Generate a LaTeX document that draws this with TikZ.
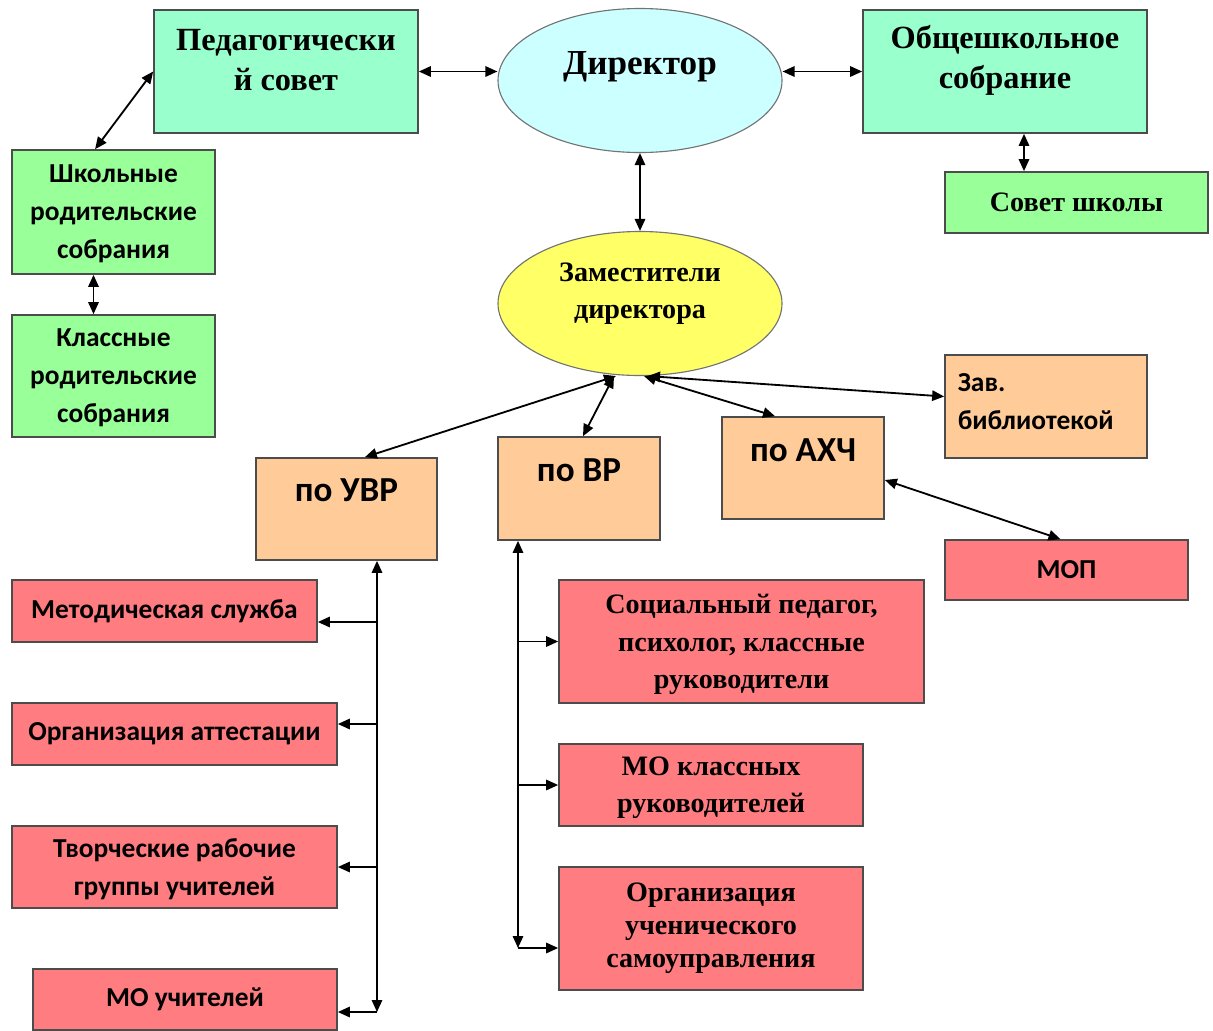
\documentclass[tikz,border=0pt]{standalone}
\usepackage{fontspec}
\setmainfont{Liberation Serif}
\newfontfamily\calibri{Carlito}
\usepackage{tikz}
\usetikzlibrary{positioning, calc, shapes.geometric, arrows.meta}

\definecolor{aquabox}{HTML}{99FFCC}
\definecolor{greenbox}{HTML}{99FF99}
\definecolor{cyanbox}{HTML}{CCFFFF}
\definecolor{yellowbox}{HTML}{FFFF66}
\definecolor{orangebox}{HTML}{FFCC99}
\definecolor{redbox}{HTML}{FF7C80}

\begin{document}
\begin{tikzpicture}[x=0.25mm, y=-0.25mm, line width=1.3pt, >={Triangle[length=3mm,width=2.6mm]}]
        % Define block styles
        \tikzstyle{block} = [rectangle, draw=black!70, line width=1.2pt, inner sep=2pt, align=center]
        \tikzstyle{oval} = [ellipse, draw=black!55, line width=0.8pt, inner sep=0pt, minimum width=71mm, minimum height=36mm]
        \tikzstyle{headtext} = [font=\bfseries\fontsize{23}{28.5}\selectfont, align=center]
        \tikzstyle{serif} = [font=\bfseries\fontsize{20}{26.5}\selectfont, align=center]
        \tikzstyle{sans} = [font=\calibri\bfseries\fontsize{19.5}{27}\selectfont, align=center]
        \tikzstyle{big} = [font=\calibri\bfseries\fontsize{25}{30}\selectfont]
        \tikzstyle{lowtext} = [text depth=0pt]
        \tikzstyle{link} = [<->]

        \useasboundingbox (0,0) rectangle (1213,1030);

        % Place nodes
        \node [oval, fill=cyanbox] (dir) at (640,80.5) {};
        \node [headtext, font=\bfseries\fontsize{25}{30}\selectfont] (dirtext) at ([yshift=3.4mm]dir.center) {Директор};
        \node [block, fill=aquabox, minimum width=66mm, minimum height=30.75mm] (ped) at (286,71.5) {};
        \node [headtext] (pedtext) at ([yshift=2.9mm]ped.center) {Педагогически\\й совет};
        \node [block, fill=aquabox, minimum width=71mm, minimum height=30.75mm] (obsh) at (1005,71.5) {};
        \node [headtext] (obshtext) at ([yshift=2.9mm]obsh.center) {Общешкольное\\собрание};
        \node [block, fill=greenbox, serif, minimum width=65.75mm, minimum height=15.25mm] (sovet) at (1076.5,202.5) {Совет школы};
        \node [block, fill=greenbox, sans, lowtext, minimum width=50.75mm, minimum height=31mm] (shkol) at (113.5,212) {Школьные\\родительские\\собрания};
        \node [block, fill=greenbox, sans, lowtext, minimum width=50.75mm, minimum height=30.5mm] (klass) at (113.5,376) {Классные\\родительские\\собрания};

        \node [oval, fill=yellowbox] (zam) at (640,303.5) {};
        \node [serif] (zamtext) at ([yshift=2.5mm]zam.center) {Заместители\\директора};
        \node [block, fill=orangebox, minimum width=45.25mm, minimum height=25.5mm] (uvr) at (346.5,509) {};
        \node [big] (uvrtext) at ([yshift=4.75mm]uvr.center) {по УВР};
        \node [block, fill=orangebox, minimum width=40.5mm, minimum height=25.75mm] (vr) at (579,488.5) {};
        \node [big] (vrtext) at ([yshift=4.6mm]vr.center) {по ВР};
        \node [block, fill=orangebox, minimum width=40.5mm, minimum height=25.5mm] (ahch) at (803,468) {};
        \node [big] (ahchtext) at ([yshift=4.5mm]ahch.center) {по АХЧ};
        \node [block, fill=orangebox, minimum width=50.5mm, minimum height=25.75mm] (bib) at (1046,406.5) {};
        \node [sans, align=left, anchor=west] (bibtext) at ([xshift=2mm, yshift=1.25mm]bib.west) {Зав.\\библиотекой};
        \node [block, fill=redbox, sans, minimum width=60.75mm, minimum height=15mm] (mop) at (1066.5,570) {МОП};

        \node [block, fill=redbox, sans, minimum width=76.25mm, minimum height=15.5mm] (metod) at (164.5,611) {Методическая служба};
        \node [block, fill=redbox, sans, minimum width=81.25mm, minimum height=15.5mm] (attest) at (174.5,734) {Организация аттестации};
        \node [block, fill=redbox, sans, lowtext, minimum width=81.25mm, minimum height=20.5mm] (tvor) at (174.5,867) {Творческие рабочие\\группы учителей};
        \node [block, fill=redbox, sans, minimum width=76mm, minimum height=15.25mm] (mouch) at (185,999.5) {МО учителей};

        \node [block, fill=redbox, serif, lowtext, minimum width=91.25mm, minimum height=30.75mm] (soc) at (741.5,641.5) {Социальный педагог,\\психолог, классные\\руководители};
        \node [block, fill=redbox, serif, lowtext, minimum width=76mm, minimum height=20.5mm] (mokl) at (711,785) {МО классных\\руководителей};
        \node [block, fill=redbox, serif, font=\bfseries\fontsize{20}{23.5}\selectfont, minimum width=76mm, minimum height=30.75mm] (org) at (711,928.5) {Организация\\ученического\\самоуправления};

        % Draw connections as arrows
        \draw [link] (ped.east) -- (ped.east -| dir.west);
        \draw [link] (obsh.west -| dir.east) -- (obsh.west);
        \draw [link] (ped.west) -- ([xshift=-4.6mm]shkol.north);
        \draw [link] ([xshift=-5mm]shkol.south) -- ([xshift=-5mm]klass.north);
        \draw [link] ([xshift=4.75mm]obsh.south) -- ([xshift=4.75mm]obsh.south |- sovet.north);
        \draw [link] (dir.south) -- (zam.north);

        \draw [link] ([xshift=-6mm]zam.south) -- ([xshift=4.6mm]uvr.north);
        \draw [link] ([xshift=-6.5mm]zam.south) -- ([xshift=1mm]vr.north);
        \draw [link] ([xshift=1mm]zam.south) -- ([xshift=-7mm]ahch.north);
        \draw [link] ([xshift=2mm]zam.south) -- ([yshift=2.5mm]bib.west);
        \draw [link] ([yshift=-3mm]ahch.east) -- ([xshift=-1.5mm]mop.north);

        % Branches of the first deputy
        \coordinate (uvrtop) at ($(uvr.south)+(30.5,0)$);
        \coordinate (uvrend) at ($(uvrtop |- mouch.east)+(0,12.5)$);
        \draw [link] (uvrtop) -- (uvrend);
        \draw [->] ($(uvrtop |- metod.east)+(0,11)$) -- ($(metod.east)+(0,11)$);
        \draw [->] ($(uvrtop |- attest.east)+(0,-10)$) -- ($(attest.east)+(0,-10)$);
        \draw [->] (uvrtop |- tvor.east) -- (tvor.east);
        \draw [->] (uvrend) -- ($(mouch.east)+(0,12.5)$);

        % Branches of the second deputy
        \coordinate (vrtop) at ($(vr.south)+(-61,0)$);
        \coordinate (vrend) at ($(vrtop |- org.west)+(0,19.5)$);
        \draw [link] (vrtop) -- (vrend);
        \draw [->] (vrtop |- soc.west) -- (soc.west);
        \draw [->] (vrtop |- mokl.west) -- (mokl.west);
        \draw [->] (vrend) -- ($(org.west)+(0,19.5)$);
    \end{tikzpicture}
\end{document}
